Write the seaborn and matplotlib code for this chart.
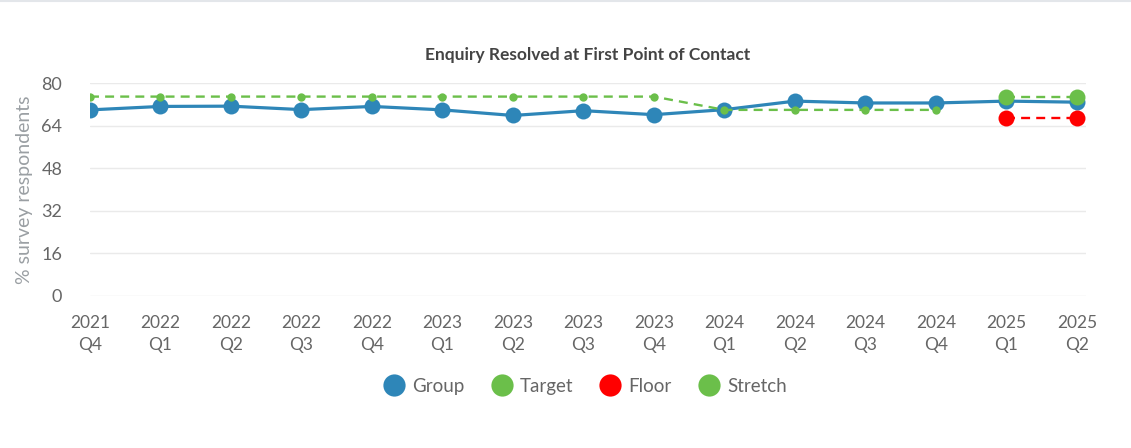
import matplotlib
matplotlib.use("Agg")
import matplotlib.pyplot as plt
from matplotlib.lines import Line2D
import numpy as np
import pandas as pd
import seaborn as sns

# ---- data ----
categories = ["2021\nQ4", "2022\nQ1", "2022\nQ2", "2022\nQ3", "2022\nQ4",
              "2023\nQ1", "2023\nQ2", "2023\nQ3", "2023\nQ4", "2024\nQ1",
              "2024\nQ2", "2024\nQ3", "2024\nQ4", "2025\nQ1", "2025\nQ2"]
group_values = [70.0, 71.3, 71.4, 70.1, 71.3, 70.0, 67.9, 69.7, 68.2, 70.1,
                73.3, 72.6, 72.6, 73.3, 72.9]
target_values = [75, 75, 75, 75, 75, 75, 75, 75, 75, 70, 70, 70, 70, None, None]
floor_values = [None] * 13 + [67, 67]
stretch_values = [None] * 13 + [75, 75]
y_ticks = [0, 16, 32, 48, 64, 80]

BLUE = "#2E86B8"
GREEN = "#6BBF4A"
RED = "#FF0000"

sns.set_theme(style="white")
plt.rcParams["font.family"] = ["Lato", "DejaVu Sans"]

fig = plt.figure(figsize=(11.31, 4.48), dpi=100)
ax = fig.add_axes([90 / 1131, 1 - 296 / 448, (1086 - 90) / 1131, (296 - 83.3) / 448])

x = np.arange(len(categories))
df = pd.DataFrame({"x": x, "Group": group_values, "Target": target_values,
                   "Floor": floor_values, "Stretch": stretch_values})

sns.lineplot(data=df, x="x", y="Group", ax=ax, color=BLUE, lw=2.3, marker="o",
             markersize=11.5, markeredgewidth=0, zorder=3)
sns.lineplot(data=df.dropna(subset=["Target"]), x="x", y="Target", ax=ax, color=GREEN,
             lw=1.7, linestyle=(0, (3.8, 2.6)), marker="o", markersize=6,
             markeredgewidth=0, zorder=4)
sns.lineplot(data=df.dropna(subset=["Floor"]), x="x", y="Floor", ax=ax, color=RED,
             lw=1.7, linestyle=(0, (3.8, 2.6)), marker="o", markersize=11.5,
             markeredgewidth=0, zorder=4)
sns.lineplot(data=df.dropna(subset=["Stretch"]), x="x", y="Stretch", ax=ax, color=GREEN,
             lw=1.7, linestyle=(0, (3.8, 2.6)), marker="o", markersize=11.5,
             markeredgewidth=0, zorder=5)

ax.set_xlim(0, len(categories) - 1 + 0.128)
ax.set_ylim(0, 80)
ax.set_yticks(y_ticks)
ax.set_xticks(x)
ax.set_xticklabels(categories, linespacing=1.45)
ax.tick_params(axis="x", length=0, pad=14, labelsize=12.5, labelcolor="#666666")
ax.tick_params(axis="y", length=0, pad=20, labelsize=13, labelcolor="#666666")
for lbl in ax.get_yticklabels():
    lbl.set_horizontalalignment("right")

ax.grid(axis="y", color="#EAEAEA", lw=1)
ax.grid(axis="x", visible=False)
for s in ax.spines.values():
    s.set_visible(False)
ax.set_xlabel("")
ax.set_ylabel("% survey respondents", fontsize=14, color="#9A9FA3", labelpad=6)

ax.set_title("Enquiry Resolved at First Point of Contact", fontsize=12.5,
             fontweight="bold", color="#444444", pad=17)

handles = [Line2D([], [], ls="none", marker="o", markersize=16, color=c, markeredgewidth=0)
           for c in [BLUE, GREEN, RED, GREEN]]
fig.legend(handles, ["Group", "Target", "Floor", "Stretch"], loc="center",
           bbox_to_anchor=(0.517, 1 - 386 / 448), ncol=4, frameon=False,
           fontsize=13.5, labelcolor="#666666", handletextpad=0.35,
           columnspacing=1.4, handlelength=1.2)

fig.add_artist(Line2D([0, 1], [0.998, 0.998], transform=fig.transFigure,
                      color="#E3E6EA", lw=1.5))

fig.savefig("out.png", dpi=100)
